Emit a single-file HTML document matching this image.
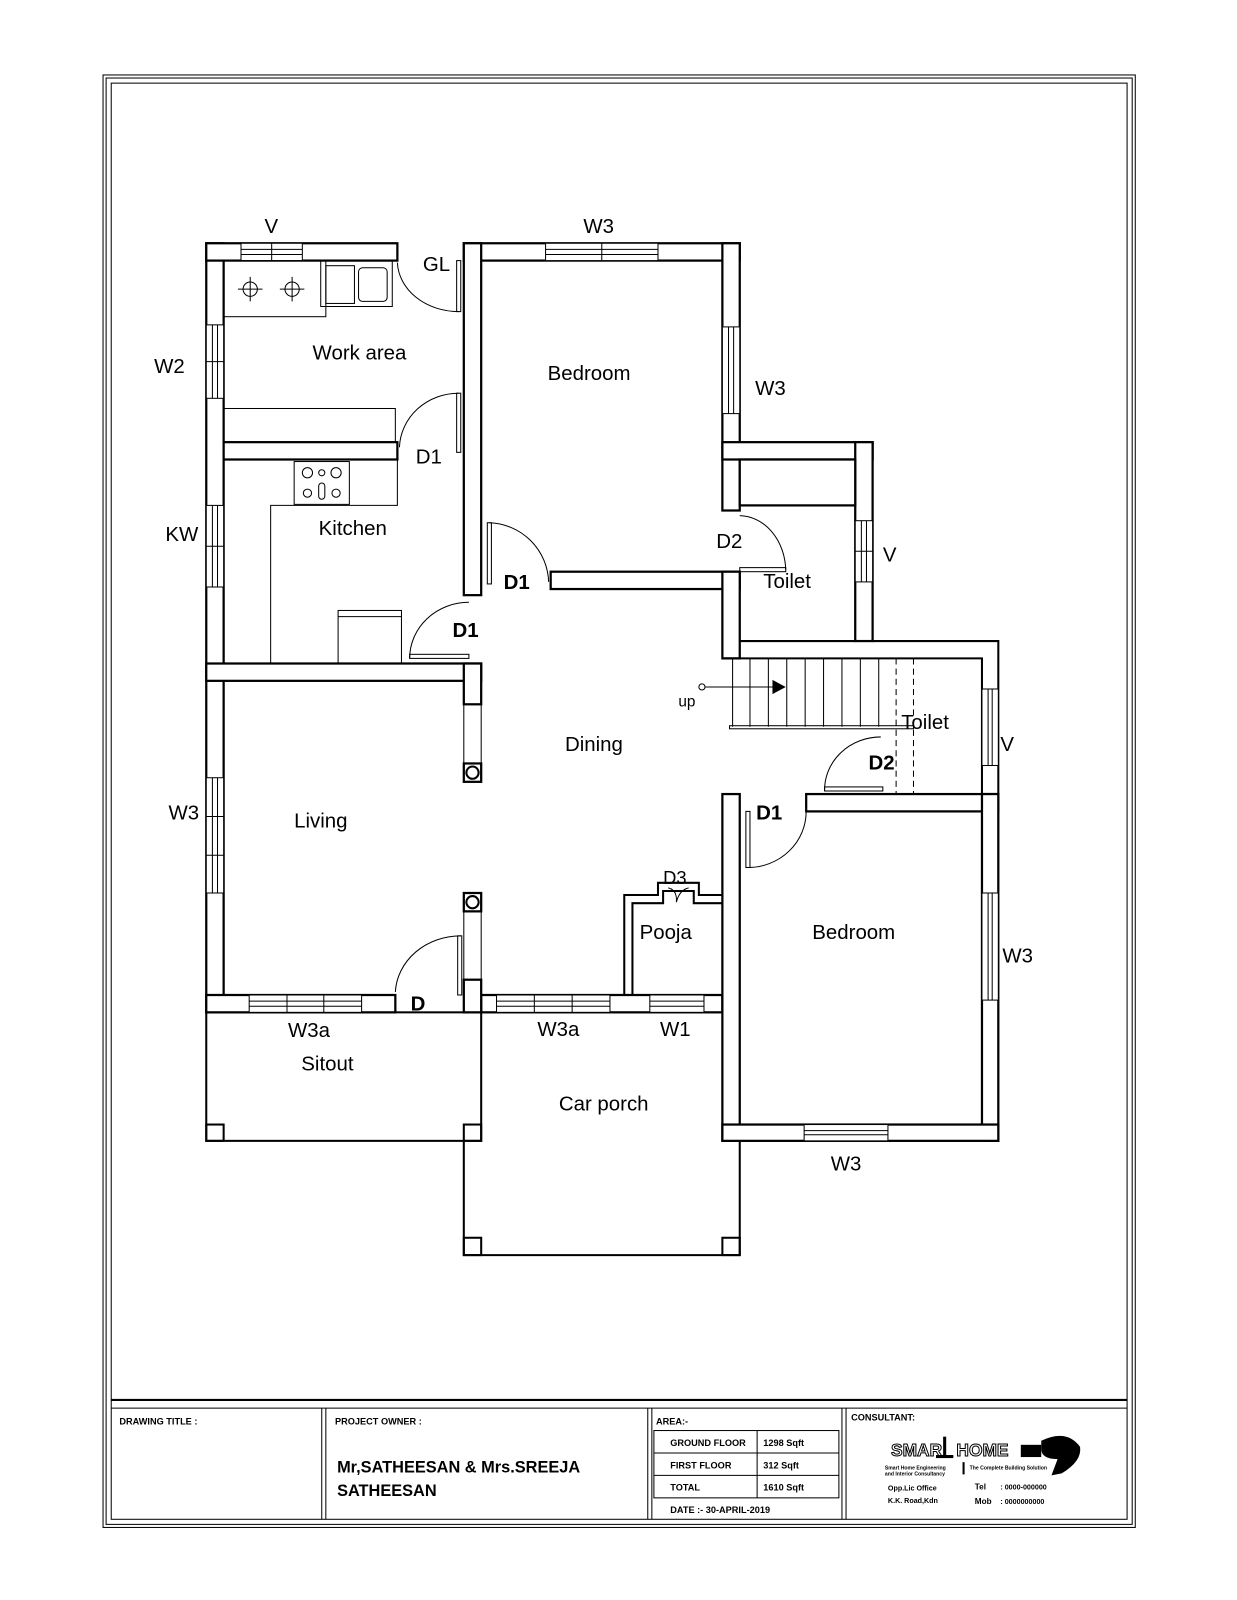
<!DOCTYPE html>
<html><head><meta charset="utf-8"><style>
html,body{margin:0;padding:0;background:#fff;}
svg{display:block;}
text{font-family:"Liberation Sans",sans-serif;fill:#000;}
.w{fill:#fff;stroke:#000;stroke-width:2.2;}
.l{fill:none;stroke:#000;stroke-width:2;}
.t{fill:none;stroke:#000;stroke-width:1;}
.lab{font-size:20px;}
.tb{font-weight:bold;font-size:9px;}
</style></head><body>
<svg width="1237" height="1600" viewBox="0 0 1237 1600" xmlns="http://www.w3.org/2000/svg">
<g transform="matrix(1.022 0 0 1.02 -1.2 0.5)">
<rect x="102" y="73" width="1010" height="1424" class="t" stroke-width="2"/>
<rect x="105" y="76" width="1004" height="1418" class="t"/>
<rect x="110" y="81" width="994" height="1408" class="t" stroke-width="2"/>
<line x1="110" y1="1372" x2="1104" y2="1372" class="l"/>
<line x1="110" y1="1380" x2="1104" y2="1380" class="t"/>
<line x1="316" y1="1380" x2="316" y2="1489" class="t"/><line x1="320" y1="1380" x2="320" y2="1489" class="t"/>
<line x1="635" y1="1380" x2="635" y2="1489" class="t"/><line x1="639" y1="1380" x2="639" y2="1489" class="t"/>
<line x1="825" y1="1380" x2="825" y2="1489" class="t"/><line x1="829" y1="1380" x2="829" y2="1489" class="t"/>
<text x="118" y="1396" class="tb">DRAWING TITLE :</text>
<text x="329" y="1396" class="tb">PROJECT OWNER :</text>
<text x="331" y="1443" style="font-weight:bold;font-size:16px">Mr,SATHEESAN &amp; Mrs.SREEJA</text>
<text x="331" y="1466" style="font-weight:bold;font-size:16px">SATHEESAN</text>
<text x="643" y="1396" class="tb">AREA:-</text>
<rect x="641" y="1402" width="181" height="66" class="t"/>
<line x1="641" y1="1424" x2="822" y2="1424" class="t"/><line x1="641" y1="1446" x2="822" y2="1446" class="t"/>
<line x1="742" y1="1402" x2="742" y2="1468" class="t"/>
<text x="657" y="1417" class="tb">GROUND FLOOR</text><text x="748" y="1417" class="tb">1298   Sqft</text>
<text x="657" y="1439" class="tb">FIRST FLOOR</text><text x="748" y="1439" class="tb">312    Sqft</text>
<text x="657" y="1461" class="tb">TOTAL</text><text x="748" y="1461" class="tb">1610   Sqft</text>
<text x="657" y="1483" class="tb">DATE :-  30-APRIL-2019</text>
<text x="834" y="1392" class="tb">CONSULTANT:</text>
<text x="873" y="1427" style="font-size:17px;font-weight:bold;fill:#fff;stroke:#000;stroke-width:1">SMAR</text>
<rect x="924" y="1408" width="3" height="20" fill="#000"/><rect x="917" y="1426" width="17" height="3" fill="#000"/>
<text x="937" y="1427" style="font-size:17px;font-weight:bold;fill:#fff;stroke:#000;stroke-width:1">HOME</text>
<rect x="1000" y="1416" width="20" height="12" fill="#000"/>
<path d="M1020,1412 Q1045,1400 1058,1418 Q1060,1432 1040,1444 L1030,1446 L1036,1430 Q1020,1430 1020,1420Z" fill="#000"/>
<text x="867" y="1440" style="font-size:5px;font-weight:bold">Smart Home Engineering</text>
<text x="867" y="1446" style="font-size:5px;font-weight:bold">and Interior Consultancy</text>
<rect x="943" y="1433" width="2" height="12" fill="#000"/>
<text x="950" y="1440" style="font-size:5px;font-weight:bold">The Complete Building Solution</text>
<text x="870" y="1461" style="font-size:7px;font-weight:bold">Opp.Lic Office</text>
<text x="870" y="1473" style="font-size:7px;font-weight:bold">K.K. Road,Kdn</text>
<text x="955" y="1460" style="font-size:8px;font-weight:bold">Tel</text><text x="980" y="1460" style="font-size:7px;font-weight:bold">: 0000-000000</text>
<text x="955" y="1474" style="font-size:8px;font-weight:bold">Mob</text><text x="980" y="1474" style="font-size:7px;font-weight:bold">: 0000000000</text>

<rect x="203" y="992" width="269" height="126" class="l"/>
<rect x="203" y="1102" width="17" height="16" class="l"/><rect x="455" y="1102" width="17" height="16" class="l"/>
<polyline points="455,1118 455,1230 725,1230 725,1118" class="l"/>
<rect x="455" y="1213" width="17" height="17" class="l"/><rect x="708" y="1213" width="17" height="17" class="l"/>

<rect x="203" y="238" width="17" height="754" class="w"/>
<rect x="203" y="238" width="187" height="17" class="w"/>
<rect x="455" y="238" width="270" height="17" class="w"/>
<rect x="455" y="238" width="17" height="345" class="w"/>
<rect x="708" y="238" width="17" height="262" class="w"/>
<rect x="220" y="433" width="170" height="17" class="w"/>
<rect x="708" y="433" width="147" height="17" class="w"/>
<rect x="838" y="433" width="17" height="195" class="w"/>
<rect x="725" y="450" width="113" height="45" class="w"/>
<rect x="540" y="560" width="185" height="17" class="w"/>
<rect x="708" y="560" width="17" height="85" class="w"/>
<polyline points="725,628 838,628" class="l"/>
<polyline points="855,628 978,628 978,778" class="l"/>
<polyline points="708,645 962,645 962,778" class="l"/>
<rect x="203" y="650" width="269" height="17" class="w"/>
<rect x="455" y="650" width="17" height="40" class="w"/>
<line x1="455" y1="690" x2="455" y2="748" class="t"/><line x1="472" y1="690" x2="472" y2="748" class="t"/>
<rect x="455" y="748" width="17" height="18" class="w"/><circle cx="463.5" cy="757" r="6" class="l"/>
<rect x="455" y="875" width="17" height="18" class="w"/><circle cx="463.5" cy="884" r="6" class="l"/>
<line x1="455" y1="893" x2="455" y2="960" class="t"/><line x1="472" y1="893" x2="472" y2="960" class="t"/>
<rect x="203" y="975" width="185" height="17" class="w"/>
<rect x="472" y="975" width="236" height="17" class="w"/>
<rect x="455" y="960" width="17" height="32" class="w"/>
<rect x="708" y="778" width="17" height="340" class="w"/>
<rect x="790" y="778" width="188" height="17" class="w"/>
<rect x="962" y="778" width="16" height="340" class="w"/>
<rect x="708" y="1102" width="270" height="16" class="w"/>
<polyline points="612,975 612,877 645,877 645,865 685,865 685,877 708,877" class="l"/>
<polyline points="620,975 620,885 650,885 650,873 680,873 680,885 708,885" class="l"/>
<path d="M655,870 Q664,872 663,884 Q666,872 675,870" class="t"/>

<g class="t">
<rect x="237" y="238" width="60" height="17" fill="#fff"/><line x1="237" y1="244" x2="297" y2="244"/><line x1="237" y1="249" x2="297" y2="249"/><line x1="267" y1="238" x2="267" y2="255"/>
<rect x="535" y="238" width="110" height="17" fill="#fff"/><line x1="535" y1="244" x2="645" y2="244"/><line x1="535" y1="249" x2="645" y2="249"/><line x1="590" y1="238" x2="590" y2="255"/>
<rect x="203" y="318" width="17" height="72" fill="#fff"/><line x1="209" y1="318" x2="209" y2="390"/><line x1="214" y1="318" x2="214" y2="390"/><line x1="203" y1="354" x2="220" y2="354"/>
<rect x="203" y="495" width="17" height="80" fill="#fff"/><line x1="209" y1="495" x2="209" y2="575"/><line x1="214" y1="495" x2="214" y2="575"/><line x1="203" y1="535" x2="220" y2="535"/>
<rect x="203" y="762" width="17" height="113" fill="#fff"/><line x1="209" y1="762" x2="209" y2="875"/><line x1="214" y1="762" x2="214" y2="875"/><line x1="203" y1="800" x2="220" y2="800"/><line x1="203" y1="838" x2="220" y2="838"/>
<rect x="708" y="320" width="17" height="85" fill="#fff"/><line x1="714" y1="320" x2="714" y2="405"/><line x1="719" y1="320" x2="719" y2="405"/>
<rect x="838" y="510" width="17" height="60" fill="#fff"/><line x1="844" y1="510" x2="844" y2="570"/><line x1="849" y1="510" x2="849" y2="570"/><line x1="838" y1="540" x2="855" y2="540"/>
<rect x="962" y="675" width="16" height="75" fill="#fff"/><line x1="968" y1="675" x2="968" y2="750"/><line x1="972" y1="675" x2="972" y2="750"/>
<rect x="962" y="875" width="16" height="105" fill="#fff"/><line x1="968" y1="875" x2="968" y2="980"/><line x1="972" y1="875" x2="972" y2="980"/>
<rect x="788" y="1102" width="82" height="16" fill="#fff"/><line x1="788" y1="1108" x2="870" y2="1108"/><line x1="788" y1="1112" x2="870" y2="1112"/>
<rect x="245" y="975" width="110" height="17" fill="#fff"/><line x1="245" y1="981" x2="355" y2="981"/><line x1="245" y1="986" x2="355" y2="986"/><line x1="282" y1="975" x2="282" y2="992"/><line x1="318" y1="975" x2="318" y2="992"/>
<rect x="487" y="975" width="111" height="17" fill="#fff"/><line x1="487" y1="981" x2="598" y2="981"/><line x1="487" y1="986" x2="598" y2="986"/><line x1="524" y1="975" x2="524" y2="992"/><line x1="561" y1="975" x2="561" y2="992"/>
<rect x="637" y="975" width="53" height="17" fill="#fff"/><line x1="637" y1="981" x2="690" y2="981"/><line x1="637" y1="986" x2="690" y2="986"/>
</g>
<rect x="220" y="255" width="100" height="55" class="t"/>
<g class="t"><circle cx="246" cy="283" r="7"/><line x1="234" y1="283" x2="258" y2="283"/><line x1="246" y1="271" x2="246" y2="295"/>
<circle cx="287" cy="283" r="7"/><line x1="275" y1="283" x2="299" y2="283"/><line x1="287" y1="271" x2="287" y2="295"/></g>
<rect x="315" y="255" width="70" height="45" class="t"/>
<rect x="320" y="260" width="28" height="37" class="t"/><rect x="352" y="262" width="28" height="33" rx="4" class="t"/>
<rect x="220" y="400" width="168" height="33" class="t"/>
<polyline points="220,450 390,450 390,495 266,495 266,650" class="t"/>
<rect x="289" y="452" width="54" height="42" class="t"/>
<g class="t"><circle cx="302" cy="463" r="5"/><circle cx="330" cy="463" r="5"/><circle cx="302" cy="483" r="4"/><circle cx="330" cy="483" r="4"/><circle cx="316" cy="463" r="3"/><rect x="313" y="473" width="6" height="16" rx="3"/></g>
<rect x="332" y="598" width="62" height="52" class="t"/><line x1="332" y1="604" x2="394" y2="604" class="t"/>
<g class="t">
<path d="M390,257 A60,50 0 0 0 450,305"/><rect x="448" y="255" width="4" height="50"/>
<path d="M392,438 A58,55 0 0 1 450,385"/><rect x="448" y="385" width="4" height="58"/>
<path d="M480,512 A60,60 0 0 1 538,570"/><rect x="478" y="512" width="4" height="60"/>
<path d="M402,645 A58,55 0 0 1 460,590"/><rect x="402" y="641" width="58" height="4"/>
<path d="M725,505 A46,55 0 0 1 770,558"/><rect x="725" y="556" width="45" height="4"/>
<path d="M808,775 A55,52 0 0 1 863,722"/><rect x="808" y="771" width="57" height="4"/>
<path d="M733,850 A57,55 0 0 0 790,795"/><rect x="731" y="795" width="4" height="55"/>
<path d="M388,972 A64,58 0 0 1 452,917"/><rect x="449" y="917" width="4" height="58"/>
</g>
<g class="t">
<line x1="718" y1="645" x2="718" y2="712"/>
<line x1="735" y1="645" x2="735" y2="712"/><line x1="753" y1="645" x2="753" y2="712"/><line x1="771" y1="645" x2="771" y2="712"/><line x1="789" y1="645" x2="789" y2="712"/><line x1="807" y1="645" x2="807" y2="712"/><line x1="825" y1="645" x2="825" y2="712"/><line x1="843" y1="645" x2="843" y2="712"/><line x1="861" y1="645" x2="861" y2="712"/>
<line x1="878" y1="645" x2="878" y2="778" stroke-dasharray="6,4"/><line x1="895" y1="645" x2="895" y2="778" stroke-dasharray="6,4"/>
<rect x="715" y="711" width="180" height="3"/>
<circle cx="688" cy="673" r="3"/><line x1="691" y1="673" x2="760" y2="673"/>
</g>
<polygon points="757,666 770,673 757,680" fill="#000"/>
<text x="665" y="692" style="font-size:15px">up</text>

<g class="lab">
<text x="260" y="228">V</text>
<text x="572" y="228">W3</text>
<text x="415" y="265">GL</text>
<text x="152" y="365">W2</text>
<text x="307" y="352">Work area</text>
<text x="537" y="372">Bedroom</text>
<text x="740" y="387">W3</text>
<text x="408" y="454">D1</text>
<text x="163" y="530">KW</text>
<text x="313" y="524">Kitchen</text>
<text x="702" y="537">D2</text>
<text x="865" y="550">V</text>
<text x="748" y="576">Toilet</text>
<text x="494" y="577" font-weight="bold">D1</text>
<text x="444" y="624" font-weight="bold">D1</text>
<text x="883" y="714">Toilet</text>
<text x="554" y="736">Dining</text>
<text x="980" y="736">V</text>
<text x="851" y="754" font-weight="bold">D2</text>
<text x="741" y="803" font-weight="bold">D1</text>
<text x="166" y="803">W3</text>
<text x="289" y="811">Living</text>
<text x="650" y="866" style="font-size:18px">D3</text>
<text x="627" y="920">Pooja</text>
<text x="796" y="920">Bedroom</text>
<text x="982" y="943">W3</text>
<text x="403" y="990" font-weight="bold">D</text>
<text x="283" y="1016">W3a</text>
<text x="527" y="1015">W3a</text>
<text x="647" y="1015">W1</text>
<text x="296" y="1049">Sitout</text>
<text x="548" y="1088">Car porch</text>
<text x="814" y="1147">W3</text>
</g>
</g>
</svg>
</body></html>
